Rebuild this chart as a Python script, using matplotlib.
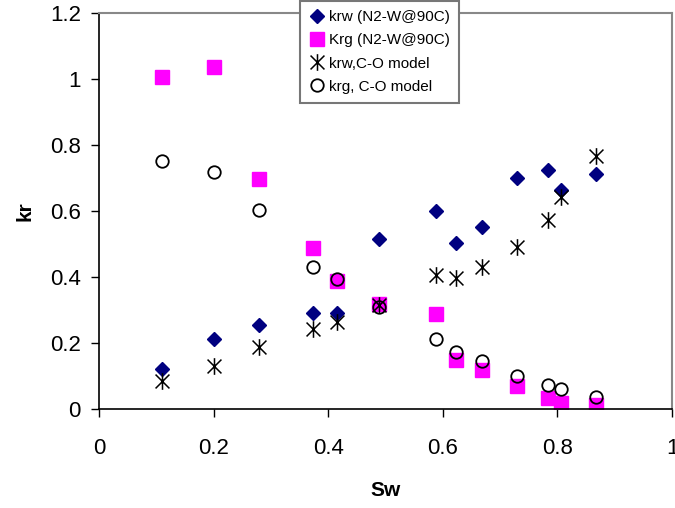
import matplotlib.pyplot as plt
from matplotlib.path import Path

plt.rcParams['font.family'] = ['Liberation Sans', 'DejaVu Sans']

# saturation values
sw = [0.11, 0.2, 0.28, 0.373, 0.416, 0.489, 0.588, 0.623, 0.668, 0.729, 0.784, 0.807, 0.867]

# measured (N2-W @ 90C)
krw_meas = [0.121, 0.212, 0.255, 0.292, 0.292, 0.516, 0.599, 0.503, 0.551, 0.699, 0.725, 0.664, 0.712]
krg_meas = [1.005, 1.036, 0.698, 0.489, 0.389, 0.318, 0.288, 0.148, 0.118, 0.070, 0.033, 0.017, 0.012]

# C-O model
krw_model = [0.085, 0.130, 0.188, 0.243, 0.263, 0.314, 0.406, 0.396, 0.431, 0.490, 0.573, 0.643, 0.767]
krg_model = [0.752, 0.717, 0.604, 0.429, 0.393, 0.310, 0.213, 0.172, 0.145, 0.100, 0.074, 0.062, 0.035]

labels = ['krw (N2-W@90C)', 'Krg (N2-W@90C)', 'krw,C-O model', 'krg, C-O model']

# excel style star: an x with a vertical bar through it
star = Path([(-1, -1), (1, 1), (-1, 1), (1, -1), (0, -1.2), (0, 1.2)],
            [Path.MOVETO, Path.LINETO, Path.MOVETO, Path.LINETO, Path.MOVETO, Path.LINETO])

fig = plt.figure(figsize=(6.75, 5.08), dpi=100)
ax = fig.add_axes([0.1467, 0.1949, 0.8489, 0.7795])

ax.plot(sw, krw_meas, linestyle='none', marker='D', ms=7, color='#000080', label=labels[0])
ax.plot(sw, krg_meas, linestyle='none', marker='s', ms=9.5, color='#FF00FF', label=labels[1])
ax.plot(sw, krw_model, linestyle='none', marker=star, ms=12, mfc='none', mec='black', mew=1.1, label=labels[2])
ax.plot(sw, krg_model, linestyle='none', marker='o', ms=9, mfc='none', mec='black', mew=1.3, label=labels[3])

ax.set_xlim(0, 1)
ax.set_ylim(0, 1.2)
ax.set_xticks([0, 0.2, 0.4, 0.6, 0.8, 1])
ax.set_xticklabels(['0', '0.2', '0.4', '0.6', '0.8', '1'])
ax.set_yticks([0, 0.2, 0.4, 0.6, 0.8, 1, 1.2])
ax.set_yticklabels(['0', '0.2', '0.4', '0.6', '0.8', '1', '1.2'])
ax.tick_params(labelsize=16, length=6, width=1, direction='out')
ax.tick_params(axis='y', pad=7)
ax.tick_params(axis='x', pad=15)

for s in ['top', 'right']:
    ax.spines[s].set_color('#888888')
    ax.spines[s].set_linewidth(1.5)
for s in ['left', 'bottom']:
    ax.spines[s].set_color('black')
    ax.spines[s].set_linewidth(1.2)

ax.set_xlabel('Sw', fontsize=15, fontweight='bold', labelpad=16)
ax.set_ylabel('kr', fontsize=15, fontweight='bold', labelpad=11)

leg = ax.legend(loc='upper left', bbox_to_anchor=(0.444, 0.998), bbox_transform=fig.transFigure,
                borderaxespad=0, fontsize=11, fancybox=False, framealpha=1, edgecolor='#777777',
                handlelength=1.0, handletextpad=0.3, labelspacing=0.6, borderpad=0.6)
leg.get_frame().set_linewidth(1.5)
leg.set_zorder(5)

plt.savefig('out.png', dpi=100)
